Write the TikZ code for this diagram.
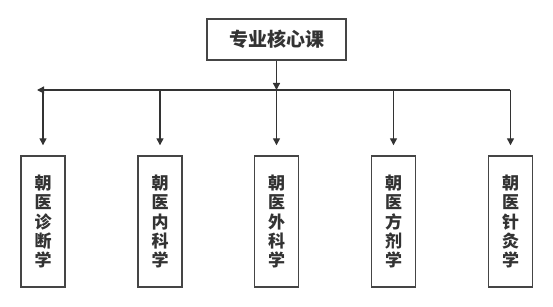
\documentclass[tikz,border=0pt]{standalone}
\usepackage{fontspec}
\usepackage{xcolor}
\usepackage{tikz}
\usetikzlibrary{arrows.meta,positioning,calc}
\newfontfamily\cjk{Noto Sans CJK SC}
\definecolor{inkgray}{HTML}{333333}
\definecolor{edgegray}{HTML}{454545}
\tikzset{
  topbox/.style  ={draw=edgegray,line width=1.4pt,fill=white,minimum width=139pt,
                   minimum height=41pt,inner sep=0pt,text=inkgray,
                   font=\cjk\bfseries\fontsize{19}{19}\selectfont},
  coursebox/.style={draw=edgegray,line width=1.4pt,fill=white,minimum width=44pt,
                   minimum height=131pt,inner sep=0pt,align=center,text=inkgray,
                   font=\cjk\bfseries\fontsize{17}{19.3}\selectfont},
  flow/.style    ={-{Triangle[length=7pt,width=7pt]},line width=1.3pt,draw=inkgray},
  bus/.style     ={line width=1.3pt,draw=inkgray}
}
\begin{document}
\begin{tikzpicture}[x=1pt,y=-1pt]
    \useasboundingbox (0,0) rectangle (553,307);
    % --- top ---
    \node[topbox] (core) at (276.5,39.5) {专业核心课};
    % --- bottom row ---
    \node[coursebox] (zd) at (43,221.5)  {朝\\医\\诊\\断\\学};
    \node[coursebox] (nk) at (160,221.5) {朝\\医\\内\\科\\学};
    \node[coursebox] (wk) at (276.5,221.5) {朝\\医\\外\\科\\学};
    \node[coursebox] (fj) at (393.5,221.5) {朝\\医\\方\\剂\\学};
    \node[coursebox] (zj) at (510.5,221.5) {朝\\医\\针\\灸\\学};
    % --- bus line at y=90 ---
    \coordinate (busL) at (37,90);
    \coordinate (busR) at (510,90);
    \draw[flow] (core.south) -- (core.south |- busL);
    \draw[flow] (busR) -- (busL);
    \foreach \c in {zd,nk,wk,fj,zj}
      \draw[flow,shorten >=10pt] (\c.north |- busL) -- (\c.north);
  \end{tikzpicture}
\end{document}
